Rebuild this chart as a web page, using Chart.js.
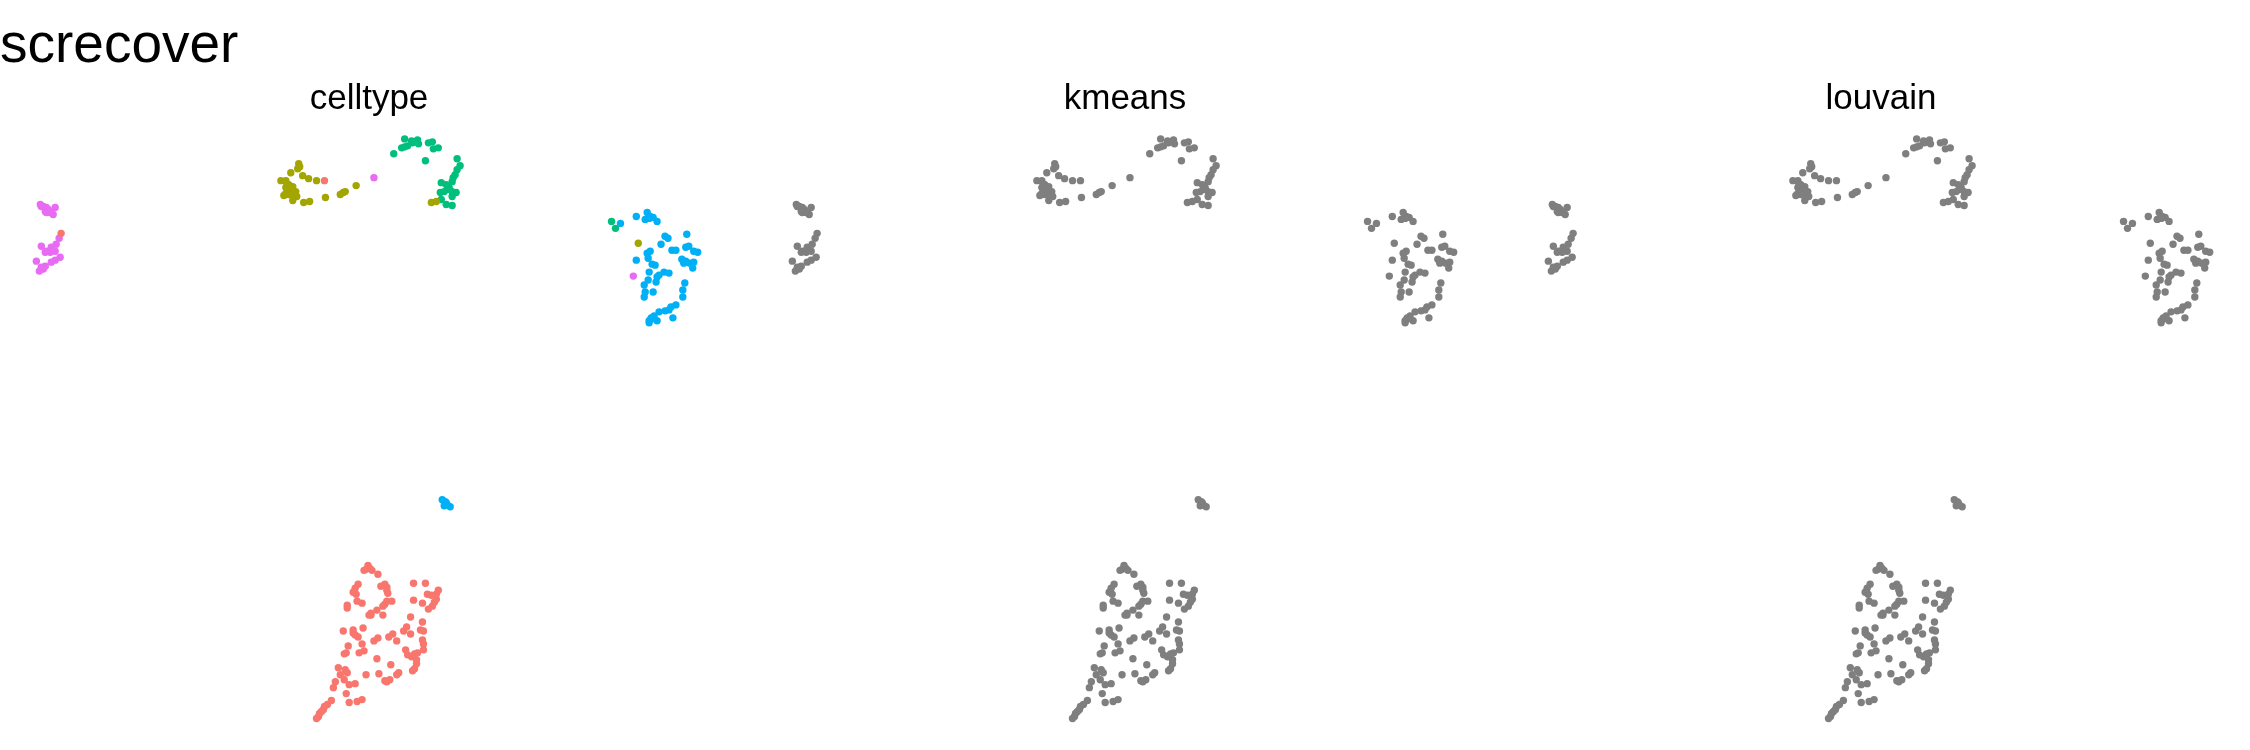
<!DOCTYPE html>
<html><head><meta charset="utf-8">
<script src="https://cdn.jsdelivr.net/npm/chart.js@4/dist/chart.umd.min.js"></script>
<style>
html,body{margin:0;padding:0;background:#fff;width:2250px;height:750px;overflow:hidden}
.panel{position:absolute;top:0;width:738px;height:750px}
</style>
</head><body>
<div class="panel" style="left:0px"><canvas id="c0" width="738" height="750"></canvas></div>
<div class="panel" style="left:756px"><canvas id="c1" width="738" height="750"></canvas></div>
<div class="panel" style="left:1512px"><canvas id="c2" width="738" height="750"></canvas></div>
<script>
const mainTitle = 'screcover';
const panelTitles = ['celltype', 'kmeans', 'louvain'];
const cellTypes = ['type 1', 'type 2', 'type 3', 'type 4', 'type 5'];
const typeColors = ['#F8766D', '#A3A500', '#00BF7D', '#00B0F6', '#E76BF3'];
const clusterColor = '#7F7F7F';

// UMAP-like embedding coordinates, per cell type
const type1X = [5.8,32.4,
 36.6,36.8,37.0,37.2,36.4,37.8,35.8,35.5,35.3,35.6,
 38.1,38.5,38.7,38.7,38.8,41.4,42.6,42.8,43.2,43.7,
 43.9,43.7,43.5,43.3,42.9,41.4,42.3,35.7,36.2,34.7,
 34.7,38.7,39.2,38.5,38.3,37.7,37.1,36.9,37.1,38.3,
 41.1,34.3,35.3,35.3,35.5,35.8,36.3,40.7,40.4,41.1,
 42.1,42.4,42.3,39.3,38.9,37.8,37.4,39.7,42.3,42.4,
 36.2,34.8,34.6,34.4,35.9,36.4,40.6,42.4,40.8,41.2,
 41.5,41.8,41.7,41.7,41.5,41.3,37.7,39.1,39.9,39.7,
 37.9,36.6,33.8,34.5,34.7,34.0,34.4,33.5,33.3,34.9,
 35.5,38.7,39.0,38.5,34.6,33.1,32.7,32.4,32.3,32.1,
 31.9,31.8,31.6,34.9,35.7,36.2];
const type1Y = [23.4,18.1,
 57.2,56.8,57.1,57.3,57.3,57.7,58.7,59.1,59.5,59.7,
 58.9,58.7,59.0,59.3,59.6,58.6,58.6,59.7,59.8,59.7,
 59.3,60.2,60.5,60.9,61.2,60.3,60.6,60.4,60.6,60.8,
 61.1,60.4,60.4,60.7,60.9,61.3,61.6,61.8,61.8,61.8,
 62.0,63.4,63.3,63.6,63.8,64.0,63.1,63.0,63.4,63.7,
 63.3,63.4,62.5,63.7,64.0,64.1,64.4,64.4,64.3,64.7,
 64.7,64.9,65.6,65.7,65.6,65.4,65.3,65.3,65.8,66.0,
 65.7,65.6,66.3,66.7,67.2,67.4,66.2,66.8,67.6,67.8,
 67.7,67.8,67.1,67.3,67.6,67.8,68.3,68.5,69.1,68.8,
 68.7,68.5,68.3,68.4,69.7,70.4,70.8,71.0,71.3,71.5,
 71.7,72.0,72.2,70.6,70.5,70.3];
const type2X = [29.8,29.9,29.7,29.0,30.2,30.8,31.6,28.0,28.5,28.8,
 28.5,29.0,29.5,28.5,28.8,29.3,29.6,28.3,29.2,30.3,
 30.9,32.5,34.0,34.3,34.5,35.6,28.6,29.2,43.2,43.7,64.1];
const type2Y = [16.4,16.7,16.9,17.3,17.6,17.9,18.1,18.1,18.1,18.5,
 18.8,19.0,19.2,19.4,19.5,19.6,19.7,19.6,20.1,20.3,
 20.2,19.8,19.5,19.3,19.2,18.6,18.4,18.7,20.3,20.2,24.4];
const type3X = [39.4,40.2,40.5,40.5,40.8,41.2,41.8,41.9,41.3,42.9,
 43.3,43.4,43.9,42.6,45.8,46.1,45.8,45.6,45.4,45.3,
 44.2,44.7,45.0,44.8,44.5,45.3,45.7,44.1,45.3,44.2,
 44.7,45.3,61.4,61.8];
const type3Y = [15.4,14.8,14.7,13.9,14.6,14.1,14.0,14.4,14.3,14.3,
 14.2,14.9,14.8,16.1,15.9,16.6,17.0,17.5,17.8,18.2,
 18.3,18.5,18.8,19.0,19.2,19.2,19.3,19.3,19.7,20.0,
 20.5,20.6,22.2,22.9];
const type4X = [62.3,63.9,65.0,64.8,65.3,65.6,66.0,65.2,66.8,67.1,
 69.0,66.4,65.3,65.0,67.5,67.9,68.9,69.2,69.7,70.1,
 63.9,65.1,65.5,65.8,68.5,68.9,68.7,69.7,69.3,69.6,
 65.2,66.2,66.7,67.2,66.0,65.1,65.9,64.7,68.8,68.6,
 64.8,65.6,64.7,68.6,67.9,67.4,67.2,66.8,66.2,67.6,
 65.7,65.4,65.2,65.2,66.0,65.5,
 44.3,44.6,44.8,45.1,44.5,44.7];
const type4Y = [22.4,21.7,21.3,22.0,21.7,21.8,22.2,21.9,23.7,23.9,
 23.5,24.5,25.2,25.4,25.1,25.1,24.8,24.7,25.2,25.3,
 26.1,25.9,26.5,26.6,26.0,26.2,26.4,26.3,26.4,26.9,
 27.3,27.6,27.3,27.4,27.8,28.1,28.3,28.6,28.4,29.1,
 29.3,29.3,29.8,29.8,30.6,30.8,31.1,31.2,31.3,31.9,
 31.7,31.9,32.2,32.4,32.2,32.0,
 50.2,50.4,50.7,50.9,50.8,50.5];
const type5X = [3.7,4.0,4.3,4.2,4.5,4.7,5.0,5.2,4.3,4.8,
 3.8,5.6,5.3,3.8,4.8,4.3,5.2,4.7,4.2,5.7,
 5.2,4.8,3.3,4.2,3.8,3.6,4.0,37.4,63.6];
const type5Y = [20.5,20.7,20.8,21.2,21.0,21.3,21.5,20.8,21.3,21.2,
 20.7,23.9,24.5,24.7,24.8,25.2,25.2,25.3,25.3,25.8,
 26.1,26.3,26.2,26.7,26.8,27.2,27.0,17.8,27.7];

const typeXs = [type1X, type2X, type3X, type4X, type5X];
const typeYs = [type1Y, type2Y, type3Y, type4Y, type5Y];

function pts(xs, ys) { return xs.map((x, i) => ({x: x, y: ys[i]})); }

const font = "'Liberation Sans', Arial, Helvetica, sans-serif";

function makeChart(idx) {
  let datasets;
  if (idx === 0) {
    datasets = cellTypes.map((name, k) => ({
      label: name, data: pts(typeXs[k], typeYs[k]),
      backgroundColor: typeColors[k], borderWidth: 0, pointRadius: 3.7, pointHoverRadius: 3.7
    }));
  } else {
    let all = [];
    for (let k = 0; k < typeXs.length; k++) all = all.concat(pts(typeXs[k], typeYs[k]));
    datasets = [{label: panelTitles[idx], data: all, backgroundColor: clusterColor,
      borderWidth: 0, pointRadius: 3.7, pointHoverRadius: 3.7}];
  }
  new Chart(document.getElementById('c' + idx), {
    type: 'scatter',
    data: {datasets: datasets},
    options: {
      responsive: false, animation: false, events: [],
      layout: {padding: 0},
      scales: {
        x: {type: 'linear', display: false, min: 0, max: 73.8},
        y: {type: 'linear', display: false, min: 12, max: 75, reverse: true}
      },
      plugins: {
        legend: {display: false},
        tooltip: {enabled: false},
        title: {display: true, text: idx === 0 ? mainTitle : ' ', align: 'start', color: '#000',
          font: {family: font, size: 55, weight: 'normal', lineHeight: 1.0}, padding: {top: 19, bottom: 0}},
        subtitle: {display: true, text: panelTitles[idx], align: 'center', color: '#000',
          font: {family: font, size: 35, weight: 'normal', lineHeight: 1.2}, padding: {top: 4, bottom: 0}}
      }
    }
  });
}
[0, 1, 2].forEach(makeChart);
</script>
</body></html>
